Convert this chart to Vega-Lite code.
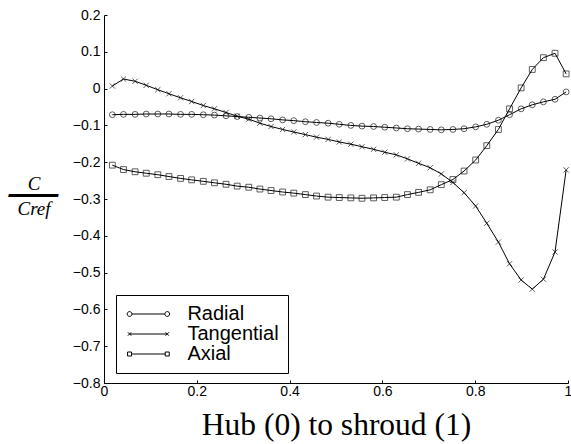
{
  "$schema": "https://vega.github.io/schema/vega-lite/v6.json",
  "width": 464,
  "height": 368,
  "autosize": {"type": "none"},
  "padding": {"left": 104, "top": 15, "right": 3, "bottom": 61},
  "background": "white",
  "config": {
    "view": {"stroke": null},
    "axis": {"grid": false, "domainColor": "black", "tickColor": "black", "labelColor": "black", "titleColor": "black", "labelFont": "Liberation Sans", "labelFontSize": 14, "domainWidth": 1, "tickWidth": 1}
  },
  "data": {"values": [
    {"s":"Radial","x":0.018,"y":-0.071},{"s":"Radial","x":0.042,"y":-0.070},{"s":"Radial","x":0.067,"y":-0.070},{"s":"Radial","x":0.091,"y":-0.069},{"s":"Radial","x":0.116,"y":-0.069},{"s":"Radial","x":0.140,"y":-0.069},{"s":"Radial","x":0.165,"y":-0.070},{"s":"Radial","x":0.189,"y":-0.070},{"s":"Radial","x":0.214,"y":-0.071},{"s":"Radial","x":0.238,"y":-0.072},{"s":"Radial","x":0.263,"y":-0.074},{"s":"Radial","x":0.287,"y":-0.076},{"s":"Radial","x":0.312,"y":-0.078},{"s":"Radial","x":0.336,"y":-0.080},{"s":"Radial","x":0.360,"y":-0.082},{"s":"Radial","x":0.385,"y":-0.085},{"s":"Radial","x":0.409,"y":-0.087},{"s":"Radial","x":0.434,"y":-0.090},{"s":"Radial","x":0.458,"y":-0.092},{"s":"Radial","x":0.483,"y":-0.094},{"s":"Radial","x":0.507,"y":-0.097},{"s":"Radial","x":0.532,"y":-0.100},{"s":"Radial","x":0.556,"y":-0.102},{"s":"Radial","x":0.581,"y":-0.103},{"s":"Radial","x":0.605,"y":-0.105},{"s":"Radial","x":0.630,"y":-0.107},{"s":"Radial","x":0.654,"y":-0.109},{"s":"Radial","x":0.678,"y":-0.110},{"s":"Radial","x":0.703,"y":-0.111},{"s":"Radial","x":0.727,"y":-0.112},{"s":"Radial","x":0.752,"y":-0.111},{"s":"Radial","x":0.776,"y":-0.109},{"s":"Radial","x":0.801,"y":-0.104},{"s":"Radial","x":0.825,"y":-0.097},{"s":"Radial","x":0.850,"y":-0.086},{"s":"Radial","x":0.874,"y":-0.071},{"s":"Radial","x":0.899,"y":-0.055},{"s":"Radial","x":0.923,"y":-0.044},{"s":"Radial","x":0.947,"y":-0.036},{"s":"Radial","x":0.972,"y":-0.029},{"s":"Radial","x":0.996,"y":-0.009},
    {"s":"Tangential","x":0.018,"y":0.007},{"s":"Tangential","x":0.042,"y":0.026},{"s":"Tangential","x":0.067,"y":0.020},{"s":"Tangential","x":0.091,"y":0.009},{"s":"Tangential","x":0.116,"y":-0.003},{"s":"Tangential","x":0.140,"y":-0.014},{"s":"Tangential","x":0.165,"y":-0.025},{"s":"Tangential","x":0.189,"y":-0.035},{"s":"Tangential","x":0.214,"y":-0.046},{"s":"Tangential","x":0.238,"y":-0.055},{"s":"Tangential","x":0.263,"y":-0.065},{"s":"Tangential","x":0.287,"y":-0.075},{"s":"Tangential","x":0.312,"y":-0.083},{"s":"Tangential","x":0.336,"y":-0.094},{"s":"Tangential","x":0.360,"y":-0.103},{"s":"Tangential","x":0.385,"y":-0.111},{"s":"Tangential","x":0.409,"y":-0.118},{"s":"Tangential","x":0.434,"y":-0.125},{"s":"Tangential","x":0.458,"y":-0.132},{"s":"Tangential","x":0.483,"y":-0.138},{"s":"Tangential","x":0.507,"y":-0.145},{"s":"Tangential","x":0.532,"y":-0.151},{"s":"Tangential","x":0.556,"y":-0.158},{"s":"Tangential","x":0.581,"y":-0.165},{"s":"Tangential","x":0.605,"y":-0.173},{"s":"Tangential","x":0.630,"y":-0.180},{"s":"Tangential","x":0.654,"y":-0.191},{"s":"Tangential","x":0.678,"y":-0.203},{"s":"Tangential","x":0.703,"y":-0.215},{"s":"Tangential","x":0.727,"y":-0.232},{"s":"Tangential","x":0.752,"y":-0.255},{"s":"Tangential","x":0.776,"y":-0.283},{"s":"Tangential","x":0.801,"y":-0.319},{"s":"Tangential","x":0.825,"y":-0.366},{"s":"Tangential","x":0.850,"y":-0.417},{"s":"Tangential","x":0.874,"y":-0.476},{"s":"Tangential","x":0.899,"y":-0.520},{"s":"Tangential","x":0.923,"y":-0.545},{"s":"Tangential","x":0.947,"y":-0.518},{"s":"Tangential","x":0.972,"y":-0.444},{"s":"Tangential","x":0.996,"y":-0.221},
    {"s":"Axial","x":0.018,"y":-0.208},{"s":"Axial","x":0.042,"y":-0.220},{"s":"Axial","x":0.067,"y":-0.226},{"s":"Axial","x":0.091,"y":-0.230},{"s":"Axial","x":0.116,"y":-0.234},{"s":"Axial","x":0.140,"y":-0.239},{"s":"Axial","x":0.165,"y":-0.244},{"s":"Axial","x":0.189,"y":-0.248},{"s":"Axial","x":0.214,"y":-0.252},{"s":"Axial","x":0.238,"y":-0.256},{"s":"Axial","x":0.263,"y":-0.260},{"s":"Axial","x":0.287,"y":-0.265},{"s":"Axial","x":0.312,"y":-0.268},{"s":"Axial","x":0.336,"y":-0.273},{"s":"Axial","x":0.360,"y":-0.277},{"s":"Axial","x":0.385,"y":-0.281},{"s":"Axial","x":0.409,"y":-0.284},{"s":"Axial","x":0.434,"y":-0.288},{"s":"Axial","x":0.458,"y":-0.292},{"s":"Axial","x":0.483,"y":-0.295},{"s":"Axial","x":0.507,"y":-0.296},{"s":"Axial","x":0.532,"y":-0.297},{"s":"Axial","x":0.556,"y":-0.298},{"s":"Axial","x":0.581,"y":-0.297},{"s":"Axial","x":0.605,"y":-0.296},{"s":"Axial","x":0.630,"y":-0.295},{"s":"Axial","x":0.654,"y":-0.288},{"s":"Axial","x":0.678,"y":-0.282},{"s":"Axial","x":0.703,"y":-0.275},{"s":"Axial","x":0.727,"y":-0.261},{"s":"Axial","x":0.752,"y":-0.247},{"s":"Axial","x":0.776,"y":-0.224},{"s":"Axial","x":0.801,"y":-0.194},{"s":"Axial","x":0.825,"y":-0.155},{"s":"Axial","x":0.850,"y":-0.111},{"s":"Axial","x":0.874,"y":-0.055},{"s":"Axial","x":0.899,"y":0.002},{"s":"Axial","x":0.923,"y":0.052},{"s":"Axial","x":0.947,"y":0.084},{"s":"Axial","x":0.972,"y":0.096},{"s":"Axial","x":0.996,"y":0.040}
  ]},
  "encoding": {
    "x": {"field": "x", "type": "quantitative", "scale": {"domain": [0, 1], "nice": false, "zero": false},
      "axis": {"values": [0, 0.2, 0.4, 0.6, 0.8, 1], "format": "~g", "tickSize": -3, "labelPadding": 4, "labelFlush": false,
        "title": "Hub (0) to shroud (1)", "titleFont": "Liberation Serif", "titleFontSize": 31.5, "titleFontWeight": "normal",
        "titleBaseline": "alphabetic", "titleY": 51, "titleX": 232, "titleAlign": "center"}},
    "y": {"field": "y", "type": "quantitative", "scale": {"domain": [-0.8, 0.2], "nice": false, "zero": false},
      "axis": {"values": [-0.8, -0.7, -0.6, -0.5, -0.4, -0.3, -0.2, -0.1, 0, 0.1, 0.2], "format": "~g", "tickSize": -3, "labelPadding": 7, "labelFlush": false,
        "title": ["C", "━━━━╸", "Cref"], "titleFont": "Liberation Serif", "titleFontStyle": "oblique", "titleFontSize": 19, "titleFontWeight": "normal",
        "titleAngle": 0, "titleAlign": "center", "titleBaseline": "alphabetic", "titleX": -70.5, "titleY": 174, "titleLineHeight": 12.5}}
  },
  "layer": [
    {"mark": {"type": "line", "color": "black", "strokeWidth": 1}, "encoding": {"detail": {"field": "s", "type": "nominal"}}},
    {"mark": {"type": "point", "filled": false, "color": "black", "strokeWidth": 0.9, "size": 34},
      "encoding": {"shape": {"field": "s", "type": "nominal", "scale": {"domain": ["Radial", "Tangential", "Axial"], "range": ["circle", "M-0.9,-0.9L0.9,0.9M-0.9,0.9L0.9,-0.9", "square"]}, "legend": null}}},
    {"mark": {"type": "point", "filled": false, "color": "black", "opacity": 0, "size": 64},
      "encoding": {"shape": {"field": "s", "type": "nominal",
        "scale": {"domain": ["Radial", "Tangential", "Axial"], "range": [
          "M-4.11,0L4.11,0M-4.11,0A0.6 0.6 0 1 1 -5.31 0A0.6 0.6 0 1 1 -4.11 0M5.31,0A0.6 0.6 0 1 1 4.11 0A0.6 0.6 0 1 1 5.31 0",
          "M-4.71,0L4.71,0M-5.13,-0.42L-4.29,0.42M-5.13,0.42L-4.29,-0.42M4.29,-0.42L5.13,0.42M4.29,0.42L5.13,-0.42",
          "M-4.21,0L4.21,0M-5.21,-0.5L-4.21,-0.5L-4.21,0.5L-5.21,0.5ZM4.21,-0.5L5.21,-0.5L5.21,0.5L4.21,0.5Z"]},
        "legend": {"title": null, "orient": "none", "legendX": 12, "legendY": 280, "padding": 9, "strokeColor": "black", "fillColor": "white",
          "labelFont": "Liberation Sans", "labelFontSize": 20, "labelColor": "black", "labelOffset": 29, "symbolOffset": 13.4, "symbolSize": 64,
          "symbolStrokeColor": "black", "symbolFillColor": "transparent", "symbolStrokeWidth": 1, "symbolOpacity": 1, "rowPadding": -0.8, "labelBaseline": "middle",
          "encode": {"legend": {"update": {"strokeWidth": {"value": 1.5}}}}}}}}
  ],
  "resolve": {"scale": {"shape": "independent"}}
}
